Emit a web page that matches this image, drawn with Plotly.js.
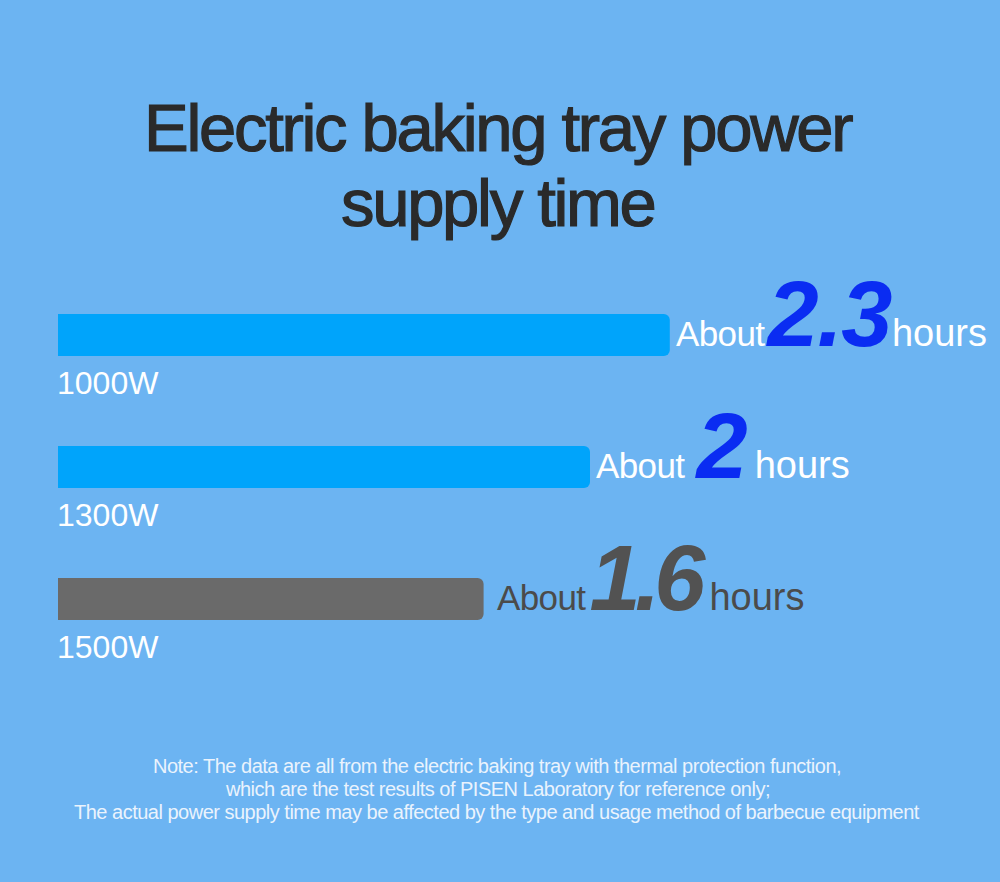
<!DOCTYPE html>
<html>
<head>
<meta charset="utf-8">
<script src="https://cdn.plot.ly/plotly-3.0.1.min.js"></script>
<style>
  html, body { margin: 0; padding: 0; background: #6cb4f2; }
  #chart { width: 1000px; height: 882px; }
</style>
</head>
<body>
<div id="chart"></div>
<script>
// power rating of each tray and the supply time in hours
var categories = ['1000W', '1300W', '1500W'];
var hours = [2.3, 2, 1.6];
var hourLabels = ['2.3', '2', '1.6'];

var barColors = ['#00a4fb', '#00a4fb', '#6a6a6a'];
var numberColors = ['#0a2cf2', '#0a2cf2', '#525252'];
var wordColors = ['#ffffff', '#ffffff', '#4b4b4b'];

var titleLines = ['Electric baking tray power', 'supply time'];
var noteLines = [
  'Note: The data are all from the electric baking tray with thermal protection function,',
  'which are the test results of PISEN Laboratory for reference only;',
  'The actual power supply time may be affected by the type and usage method of barbecue equipment'
];

var sans = '"Liberation Sans", Arial, sans-serif';

// plot area spans pixels 58..1000 horizontally and 269..665 vertically
function py(p) { return (665 - p) / 396; }
function px(p) { return (p - 58) / 942; }

// a space of roughly g pixels
function gap(g) {
  return g > 0 ? '<span style="font-size:' + (g / 0.278).toFixed(1) + 'px"> </span>' : '';
}

var bars = {
  type: 'bar',
  orientation: 'h',
  x: hours,
  y: categories,
  marker: { color: barColors },
  hoverinfo: 'skip'
};

var annotations = [];

titleLines.forEach(function (t, i) {
  annotations.push({
    text: '<span style="letter-spacing:-2.3px;stroke:#2a2a2a;stroke-width:1.2px">' + t + '</span>',
    xref: 'paper', yref: 'paper',
    x: px(498), y: py([127, 203][i]),
    xanchor: 'center', yanchor: 'middle',
    showarrow: false,
    font: { family: sans, size: 67, color: '#2a2a2a' }
  });
});

// per-row spacing of the value label
var labelShift = [4, 4, 11];
var gapBefore = [3, 12, 4];
var gapAfter = [1, 8, 10];
var numberSpacing = [-1.5, -1, -6];

categories.forEach(function (c, i) {
  annotations.push({
    text: c,
    xref: 'x', yref: 'y',
    x: 0, y: c,
    xanchor: 'left', yanchor: 'middle',
    xshift: -3, yshift: -48,
    showarrow: false,
    font: { family: sans, size: 32, color: '#ffffff' }
  });
  annotations.push({
    text: '<span style="letter-spacing:-0.6px">About</span>' + gap(gapBefore[i]) +
          '<span style="font-size:92px;color:' + numberColors[i] + '"><b><i>' +
          '<span style="letter-spacing:' + numberSpacing[i] + 'px">' + hourLabels[i] + '</span></i></b></span>' +
          gap(gapAfter[i]) +
          '<span style="font-size:38px">hours</span>',
    xref: 'x', yref: 'y',
    x: hours[i], y: c,
    xanchor: 'left', yanchor: 'middle',
    xshift: labelShift[i], yshift: 21,
    showarrow: false,
    font: { family: sans, size: 35, color: wordColors[i] }
  });
});

noteLines.forEach(function (t, i) {
  annotations.push({
    text: '<span style="letter-spacing:-0.5px">' + t + '</span>',
    xref: 'paper', yref: 'paper',
    x: px(497), y: py([766, 789, 812][i]),
    xanchor: 'center', yanchor: 'middle',
    showarrow: false,
    font: { family: sans, size: 20, color: '#eaf3fd' }
  });
});

var layout = {
  width: 1000,
  height: 882,
  margin: { l: 58, r: 0, t: 269, b: 217 },
  paper_bgcolor: '#6cb4f2',
  plot_bgcolor: '#6cb4f2',
  showlegend: false,
  bargap: 0.68,
  barcornerradius: 6,
  xaxis: { range: [0, 942 / 266], visible: false, fixedrange: true },
  yaxis: {
    type: 'category',
    categoryorder: 'array',
    categoryarray: categories,
    range: [2.5, -0.5],
    visible: false,
    fixedrange: true
  },
  annotations: annotations
};

Plotly.newPlot('chart', [bars], layout, { staticPlot: true, displayModeBar: false });
</script>
</body>
</html>
